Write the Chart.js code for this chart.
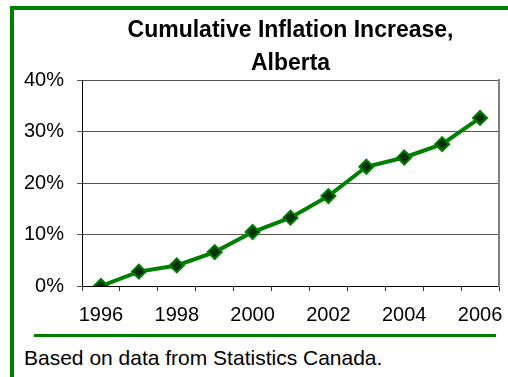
<!DOCTYPE html>
<html>
<head>
<meta charset="utf-8">
<script src="https://cdn.jsdelivr.net/npm/chart.js@4/dist/chart.umd.min.js"></script>
<style>
  body { margin: 0; background: #fff; }
  #wrap { position: relative; width: 508px; height: 377px; overflow: hidden; font-family: "Liberation Sans", Arial, sans-serif; }
  #frame { position: absolute; left: 10px; top: 6px; right: 0; bottom: 0; border-top: 4px solid #008000; border-left: 4px solid #008000; }
  #chart { position: absolute; left: 0; top: 0; }
  #rule { position: absolute; left: 34px; top: 334px; width: 462px; height: 3px; background: #008000; }
  #source { position: absolute; left: 24px; top: 347px; font-size: 21px; line-height: 21px; color: #000; white-space: nowrap; }
</style>
</head>
<body>
<div id="wrap">
  <div id="frame"></div>
  <canvas id="chart" width="508" height="330"></canvas>
  <div id="rule"></div>
  <div id="source">Based on data from Statistics Canada.</div>
</div>
<script>
// Datos del gráfico
const years = ['1996', '1997', '1998', '1999', '2000', '2001', '2002', '2003', '2004', '2005', '2006'];
const inflation = [0, 2.8, 4.0, 6.6, 10.5, 13.3, 17.5, 23.2, 25.0, 27.6, 32.7];
const yTicks = [0, 10, 20, 30, 40];
const titleLines = ['Cumulative Inflation Increase,', 'Alberta'];

const fontFamily = '"Liberation Sans", Arial, sans-serif';

new Chart(document.getElementById('chart'), {
    type: 'line',
    data: {
        labels: years,
        datasets: [{
            data: inflation,
            borderColor: '#008000',
            borderWidth: 4,
            tension: 0,
            pointStyle: 'rectRot',
            pointRadius: 7,
            pointBackgroundColor: '#003300',
            pointBorderColor: '#008000',
            pointBorderWidth: 2
        }]
    },
    options: {
        responsive: false,
        animation: false,
        layout: { padding: { left: 10, right: 8, top: 0, bottom: 4 } },
        plugins: {
            legend: { display: false },
            tooltip: { enabled: false },
            title: {
                display: true,
                text: titleLines,
                fullSize: false,
                color: '#000',
                font: { family: fontFamily, size: 23, weight: 'bold', lineHeight: 1.4 },
                padding: { top: 15, bottom: 1 }
            }
        },
        scales: {
            x: {
                type: 'category',
                offset: true,
                grid: { offset: true, drawOnChartArea: false, drawTicks: true, tickLength: 5, color: '#333' },
                border: { color: '#000', width: 1 },
                ticks: {
                    autoSkip: false,
                    maxRotation: 0,
                    padding: 12,
                    color: '#000',
                    font: { family: fontFamily, size: 20 },
                    callback: (val, i) => i % 2 === 0 ? years[i] : ''
                },
                afterFit: (scale) => {
                    scale.height = 40;
                    scale.paddingLeft = 0;
                    scale.paddingRight = 0;
                }
            },
            y: {
                min: 0,
                max: 40,
                grid: { color: '#555', tickLength: 5 },
                border: { color: '#000', width: 1 },
                afterBuildTicks: (scale) => {
                    scale.ticks = yTicks.map(v => ({ value: v }));
                },
                ticks: {
                    padding: 13,
                    color: '#000',
                    font: { family: fontFamily, size: 20 },
                    callback: (v) => v + '%'
                },
                afterFit: (scale) => {
                    scale.width = 72;
                    scale.paddingTop = 0;
                    scale.paddingBottom = 0;
                }
            },
            yRight: {
                position: 'right',
                min: 0,
                max: 40,
                grid: { display: false, drawTicks: false },
                border: { color: '#808080', width: 2 },
                ticks: { display: false },
                afterFit: (scale) => { scale.width = 0; }
            }
        }
    }
});
</script>
</body>
</html>
